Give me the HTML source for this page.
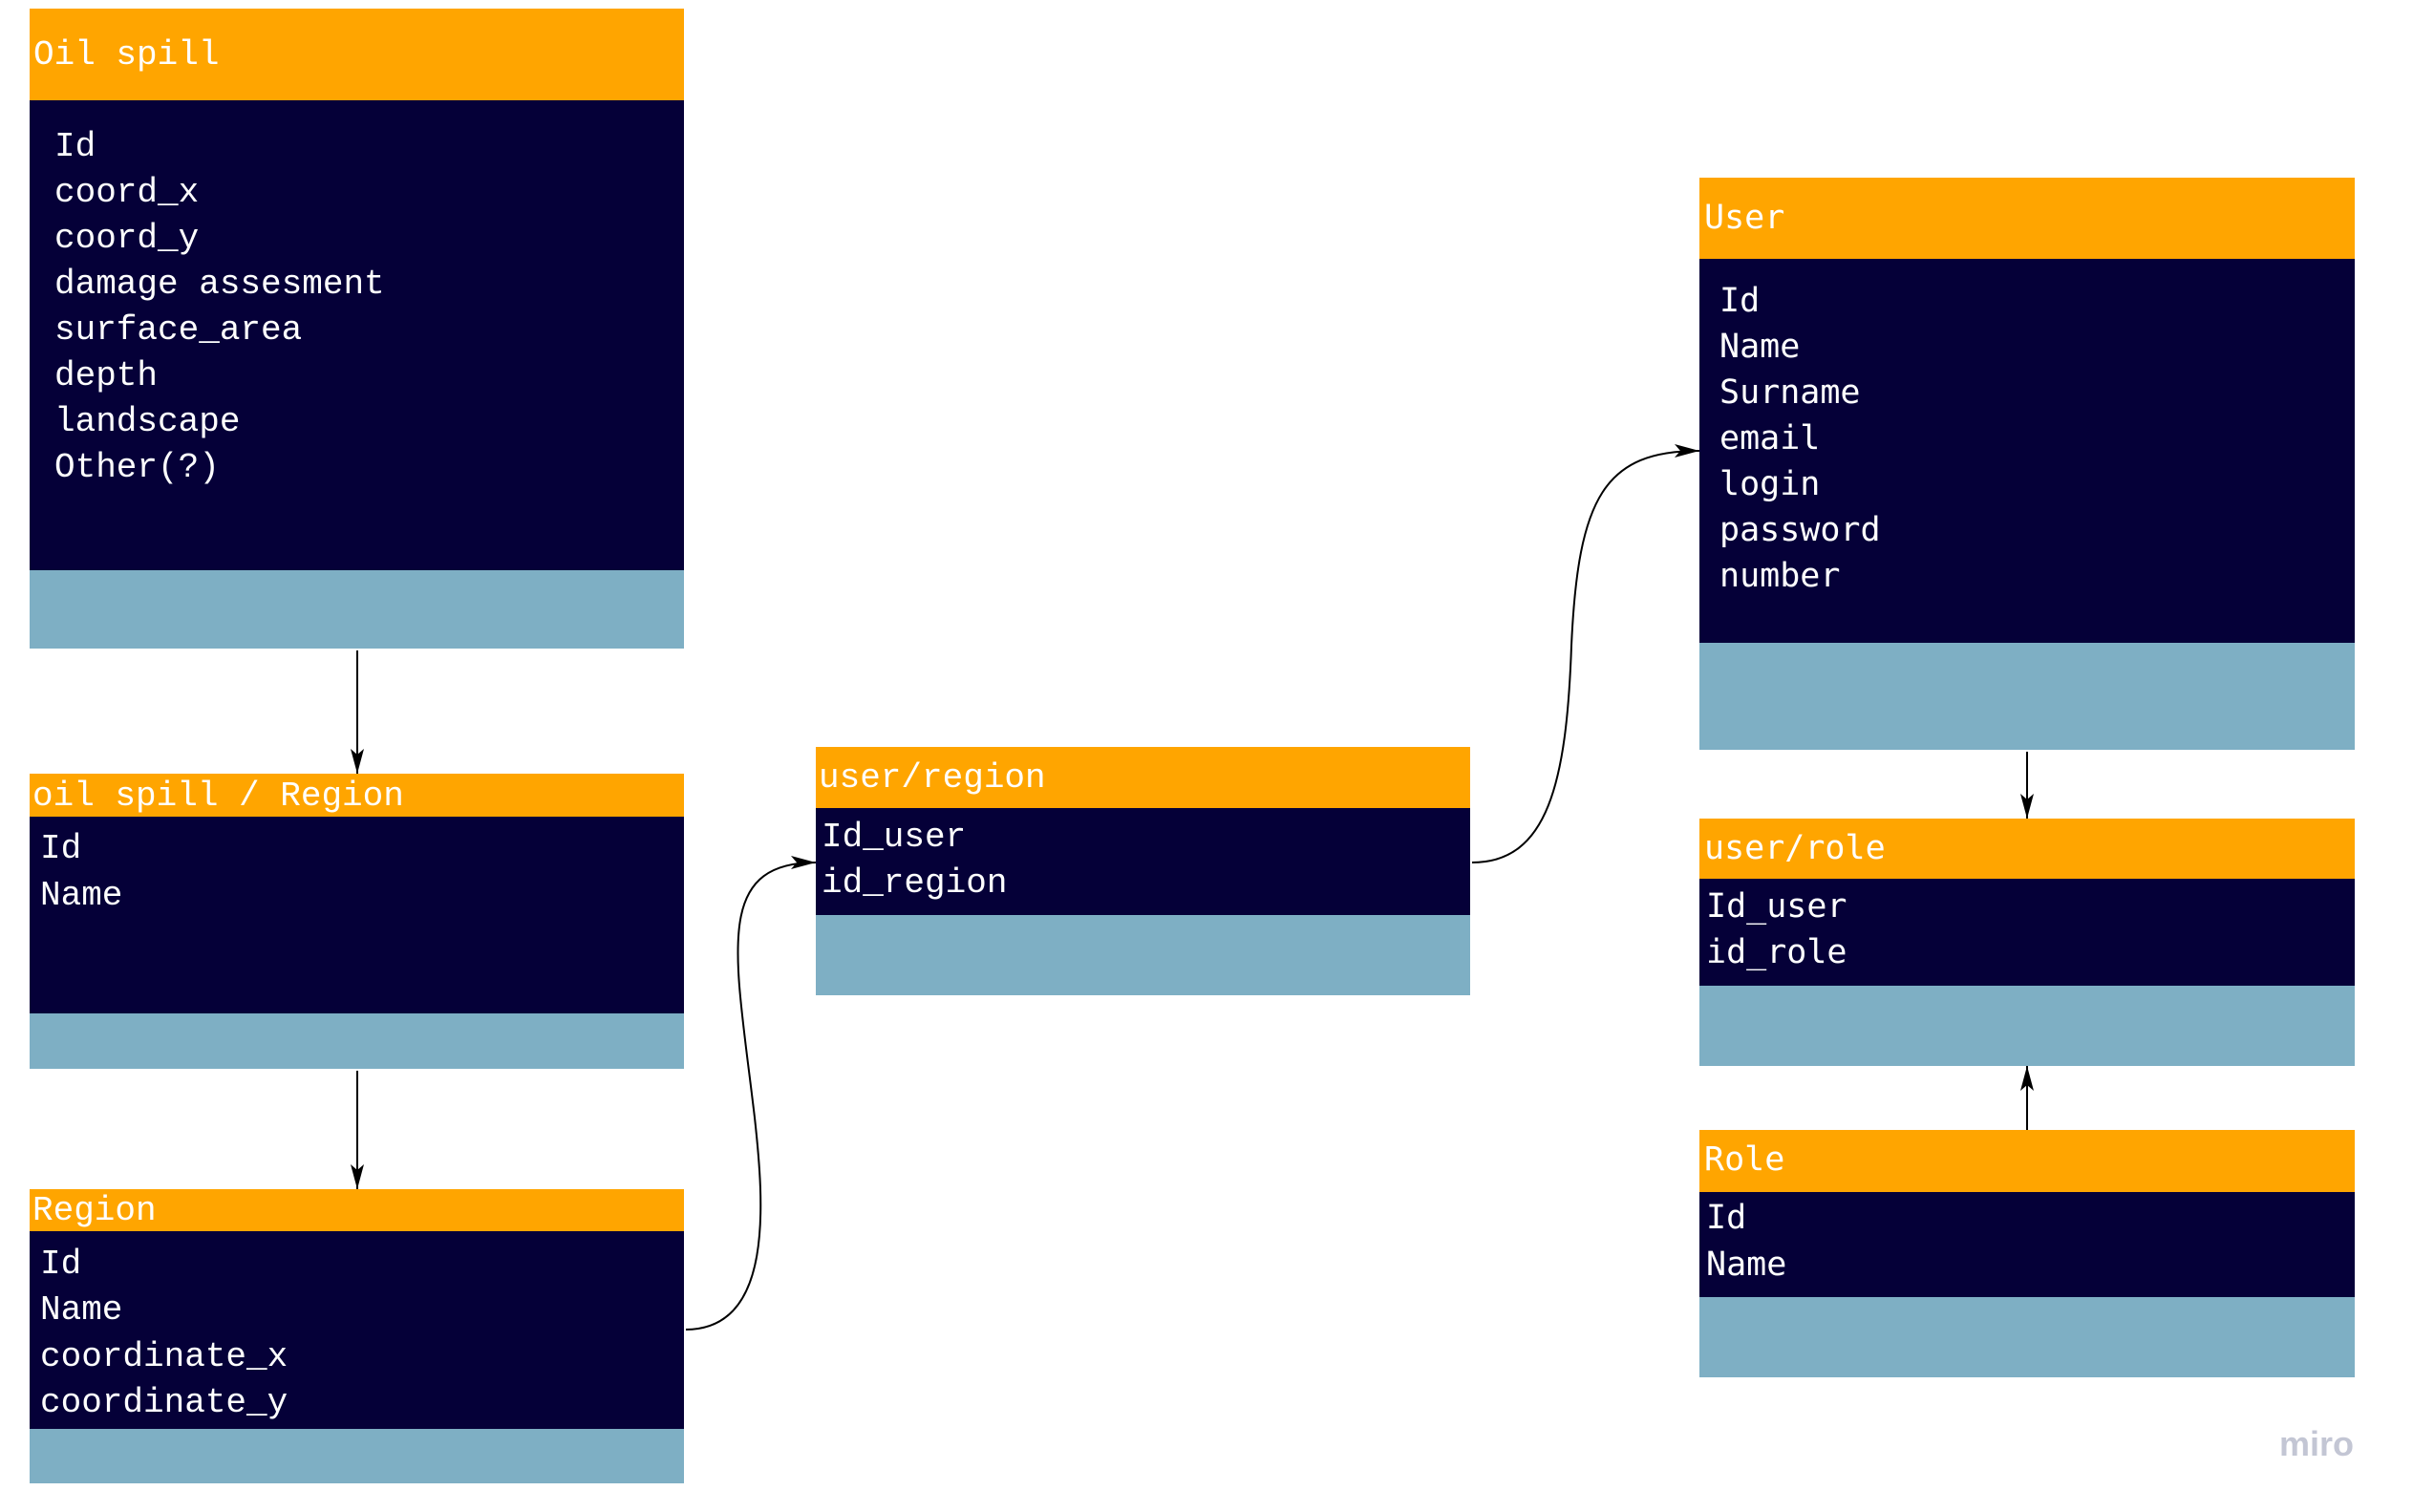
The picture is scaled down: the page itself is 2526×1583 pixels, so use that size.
<!DOCTYPE html>
<html><head><meta charset="utf-8"><style>
html,body{margin:0;padding:0;background:#fff;}
body{width:2526px;height:1583px;overflow:hidden;position:relative;}
svg{position:absolute;left:0;top:0;}
text{font-family:"Liberation Mono","DejaVu Sans Mono",monospace;font-size:36px;fill:#fff;}
.d text{font-family:"DejaVu Sans Mono","Liberation Mono",monospace;font-size:35px;}
</style></head><body>
<svg width="2526" height="1583" viewBox="0 0 2526 1583">
<defs>
<marker id="b" markerWidth="26" markerHeight="14" refX="26" refY="7" orient="auto" markerUnits="userSpaceOnUse"><path d="M0,0 L26,7 L0,14 L6,7 Z" fill="#000"/></marker></defs>
<!-- Oil spill -->
<rect x="31" y="9" width="685" height="96" fill="#FFA500"/>
<rect x="31" y="105" width="685" height="492" fill="#050038"/>
<rect x="31" y="597" width="685" height="82" fill="#7EAFC4"/>
<text x="35" y="67">Oil spill</text>
<text x="57" y="163">Id</text><text x="57" y="211">coord_x</text><text x="57" y="259">coord_y</text>
<text x="57" y="307">damage assesment</text><text x="57" y="355">surface_area</text><text x="57" y="403">depth</text>
<text x="57" y="451">landscape</text><text x="57" y="499">Other(?)</text>
<!-- oil spill / Region -->
<rect x="31" y="810" width="685" height="45" fill="#FFA500"/>
<rect x="31" y="855" width="685" height="206" fill="#050038"/>
<rect x="31" y="1061" width="685" height="58" fill="#7EAFC4"/>
<text x="34" y="843">oil spill / Region</text>
<text x="42" y="898">Id</text><text x="42" y="947">Name</text>
<!-- Region -->
<rect x="31" y="1245" width="685" height="44" fill="#FFA500"/>
<rect x="31" y="1289" width="685" height="207" fill="#050038"/>
<rect x="31" y="1496" width="685" height="57" fill="#7EAFC4"/>
<text x="34" y="1277">Region</text>
<text x="42" y="1333">Id</text><text x="42" y="1381">Name</text><text x="42" y="1430">coordinate_x</text><text x="42" y="1478">coordinate_y</text>
<!-- user/region -->
<rect x="854" y="782" width="685" height="64" fill="#FFA500"/>
<rect x="854" y="846" width="685" height="112" fill="#050038"/>
<rect x="854" y="958" width="685" height="84" fill="#7EAFC4"/>
<text x="857" y="824">user/region</text>
<text x="860" y="886">Id_user</text><text x="860" y="934">id_region</text>
<g class="d">
<!-- User -->
<rect x="1779" y="186" width="686" height="85" fill="#FFA500"/>
<rect x="1779" y="271" width="686" height="402" fill="#050038"/>
<rect x="1779" y="673" width="686" height="112" fill="#7EAFC4"/>
<text x="1784" y="239">User</text>
<text x="1800" y="326">Id</text><text x="1800" y="374">Name</text><text x="1800" y="422">Surname</text>
<text x="1800" y="470">email</text><text x="1800" y="518">login</text><text x="1800" y="566">password</text><text x="1800" y="614">number</text>
<!-- user/role -->
<rect x="1779" y="857" width="686" height="63" fill="#FFA500"/>
<rect x="1779" y="920" width="686" height="112" fill="#050038"/>
<rect x="1779" y="1032" width="686" height="84" fill="#7EAFC4"/>
<text x="1784" y="899">user/role</text>
<text x="1786" y="960">Id_user</text><text x="1786" y="1008">id_role</text>
<!-- Role -->
<rect x="1779" y="1183" width="686" height="65" fill="#FFA500"/>
<rect x="1779" y="1248" width="686" height="110" fill="#050038"/>
<rect x="1779" y="1358" width="686" height="84" fill="#7EAFC4"/>
<text x="1784" y="1225">Role</text>
<text x="1786" y="1286">Id</text><text x="1786" y="1335">Name</text>
</g>
<!-- connectors -->
<g stroke="#000" stroke-width="2" fill="none">
<path d="M374,681 L374,810" marker-end="url(#b)"/>
<path d="M374,1121 L374,1245" marker-end="url(#b)"/>
<path d="M718,1392 C810,1392 800,1260 790,1170 C770,1000 745,903 854,903" marker-end="url(#b)"/>
<path d="M1541,903 C1620,903 1640,820 1645,676 C1652,520 1680,472 1779,472" marker-end="url(#b)"/>
<path d="M2122,787 L2122,857" marker-end="url(#b)"/>
<path d="M2122,1183 L2122,1116" marker-end="url(#b)"/>
</g>
<text x="2386" y="1524" style="font-family:'Liberation Sans',sans-serif;font-weight:bold;font-size:36px;fill:#c3c6d4;">miro</text>
</svg>
</body></html>
